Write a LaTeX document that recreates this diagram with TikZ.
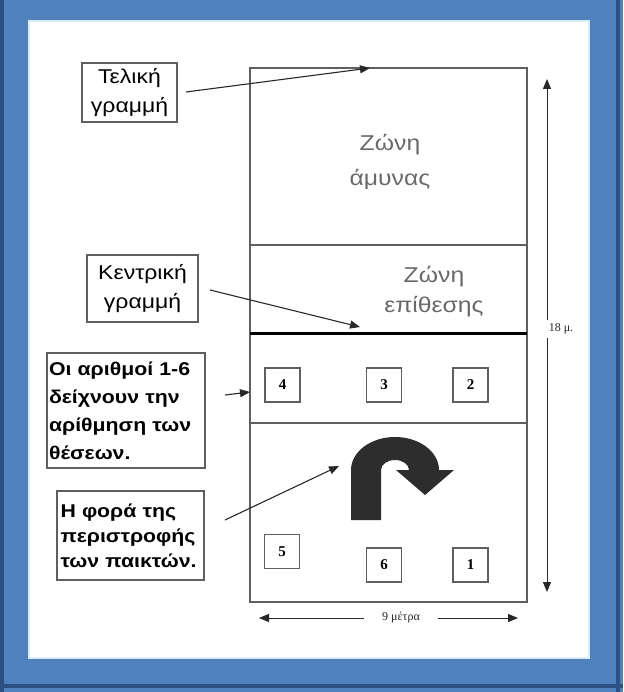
\documentclass[tikz,border=0pt]{standalone}
\usepackage{fontspec}
\setmainfont{Liberation Serif}
\newfontfamily\labfont[FakeStretch=1.15]{Liberation Sans}
\newfontfamily\numfont{Liberation Serif}
\usetikzlibrary{arrows.meta}
\definecolor{frameblue}{RGB}{79,129,189}
\definecolor{framedark}{RGB}{45,80,130}
\definecolor{framelight}{RGB}{215,238,250}
\definecolor{linegray}{RGB}{95,95,95}
\definecolor{zonegray}{RGB}{105,105,105}
\definecolor{turngray}{RGB}{45,45,45}
\definecolor{arrowgray}{RGB}{40,40,40}
\begin{document}
\begin{tikzpicture}[x=1pt,y=-1pt,
  courtline/.style={draw=linegray,line width=1.3pt},
  labelbox/.style={draw=linegray,line width=1.3pt,inner sep=0pt,text=black},
  zonetext/.style={text=zonegray,align=center,inner sep=0pt},
  posbox/.style={draw=linegray,line width=1.1pt,minimum width=35pt,minimum height=34pt,inner sep=0pt,font=\numfont\bfseries\fontsize{15}{17}\selectfont},
  pointer/.style={draw=arrowgray,line width=1.1pt,-{Triangle[length=10pt,width=8pt]}},
  dimline/.style={draw=arrowgray,line width=1pt,-{Triangle[length=10pt,width=8pt]}},
  dimlabel/.style={fill=white,inner sep=1pt,text=arrowgray,font=\numfont\fontsize{12}{14}\selectfont}
]
\useasboundingbox (0,0) rectangle (623,692);
% frame
\fill[frameblue] (0,0) rectangle (623,692);
\fill[framedark] (0,0) rectangle (4,692);
\fill[framedark] (616,0) rectangle (620,692);
\fill[framedark] (0,684) rectangle (623,688);
\fill[framelight] (28,20) rectangle (590,659);
\fill[white] (30,22) rectangle (588,657);

% court
\draw[courtline] (250,68) rectangle (527,602);
\coordinate (c245l) at (250,245); \coordinate (c245r) at (527,245);
\coordinate (c333l) at (250,333); \coordinate (c333r) at (527,333);
\coordinate (c423l) at (250,423); \coordinate (c423r) at (527,423);
\draw[courtline] (c245l) -- (c245r);
\draw[line width=3pt,black] (c333l) -- (c333r);
\draw[courtline] (c423l) -- (c423r);

% zone texts
\node[zonetext,font=\labfont\fontsize{21.5}{35}\selectfont] (zdef) at (390,162) {Ζώνη\\άμυνας};
\node[zonetext,font=\labfont\fontsize{21.5}{30}\selectfont] (zatt) at (434,292) {Ζώνη\\επίθεσης};

% position squares
\node[posbox] (p4) at (282.5,385) {4};
\node[posbox] (p3) at (384,385) {3};
\node[posbox] (p2) at (470.5,385) {2};
\node[posbox] (p5) at (282,551.5) {5};
\node[posbox] (p6) at (384,565) {6};
\node[posbox] (p1) at (470.5,565) {1};

% rotation arrow
\fill[turngray] (351,520) -- (351,470)
  arc[start angle=180,end angle=360,x radius=44,y radius=33]
  -- (454,470) -- (425,495) -- (396,470) -- (409,470)
  arc[start angle=360,end angle=180,x radius=14,y radius=10]
  -- (381,520) -- cycle;

% label boxes
\node[labelbox,minimum width=95pt,minimum height=59pt,align=center,
      font=\labfont\fontsize{20}{29}\selectfont] (tel) at (129.5,92.5) {Τελική\\γραμμή};
\node[labelbox,minimum width=111pt,minimum height=67pt,align=center,
      font=\labfont\fontsize{20}{29}\selectfont] (ken) at (142.5,288.5) {Κεντρική\\γραμμή};
\node[labelbox,minimum width=158pt,minimum height=115pt,text width=154pt,align=left,
      font=\labfont\bfseries\fontsize{18.5}{28}\selectfont] (num) at (126,410.5) {Οι αριθμοί 1-6\\δείχνουν την\\αρίθμηση των\\θέσεων.};
\node[labelbox,minimum width=147pt,minimum height=89pt,text width=140pt,align=left,
      font=\labfont\bfseries\fontsize{18.5}{25}\selectfont] (rot) at (130.5,535.5) {Η φορά της\\περιστροφής\\των παικτών.};

% pointers
\coordinate (telS) at (186,92);  \coordinate (telT) at (370,68);
\coordinate (kenS) at (210,290); \coordinate (kenT) at (360,327);
\coordinate (numS) at (225,395); \coordinate (numT) at (250,392);
\coordinate (rotS) at (225,520); \coordinate (rotT) at (339,466);
\draw[pointer] (telS) -- (telT);
\draw[pointer] (kenS) -- (kenT);
\draw[pointer] (numS) -- (numT);
\draw[pointer] (rotS) -- (rotT);

% dimensions
\coordinate (vtop) at (547,79);
\coordinate (vbot) at (547,592);
\node[dimlabel,inner ysep=4pt] (l18) at (561,329) {18 μ.};
\draw[dimline] (vtop |- l18.north) -- (vtop);
\draw[dimline] (vbot |- l18.south) -- (vbot);
\coordinate (hleft) at (259,618);
\coordinate (hright) at (518,618);
\node[dimlabel,inner xsep=18pt] (l9) at (401,618) {9 μέτρα};
\draw[dimline] (l9.west) -- (hleft);
\draw[dimline] (l9.east) -- (hright);
\end{tikzpicture}
\end{document}
